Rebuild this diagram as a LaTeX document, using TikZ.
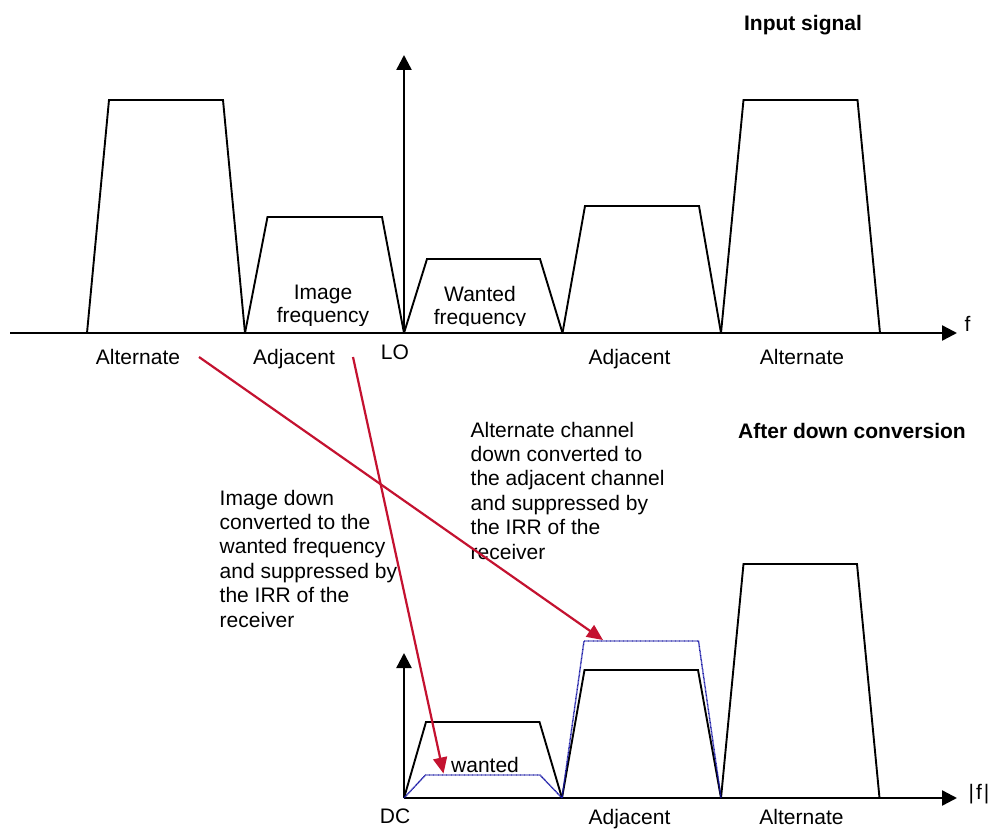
\documentclass[tikz,border=0pt]{standalone}
\usepackage{fontspec}
\setmainfont{Liberation Sans}
\usetikzlibrary{arrows.meta}
\definecolor{redarrow}{RGB}{196,18,48}
\definecolor{bluedot}{RGB}{20,20,165}
\begin{document}
\begin{tikzpicture}[x=1pt,y=-1pt,
  lbl/.style={inner sep=0pt, font=\fontsize{21}{24.4}\selectfont},
  boldlbl/.style={inner sep=0pt, font=\fontsize{21}{24.4}\selectfont\bfseries},
  axis/.style={line width=2.4pt, -{Triangle[length=15pt,width=15pt]}},
  band/.style={line width=1.9pt, line join=miter},
  suppressed/.style={bluedot, line width=1.4pt, dash pattern=on 0.8pt off 0.5pt},
  conv/.style={redarrow, line width=2.2pt, -{Triangle[length=16pt,width=14pt]}}]
\useasboundingbox (0,0) rectangle (993,829);
\fill[white] (0,0) rectangle (993,829);

% ---------- top: input signal ----------
\coordinate (h0) at (10,333);
\coordinate (h1) at (957,333);
\coordinate (lo) at (404,333);
\coordinate (v1) at (404,55);
\draw[axis] (h0) -- (h1);
\draw[axis] (lo) -- (v1);

\draw[band] (87,333) -- (109,100) -- (223,100) -- (245,333);
\draw[band] (245,333) -- (267.5,217) -- (382,217) -- (404,333);
\draw[band] (404,333) -- (427,259) -- (540,259) -- (562.5,333);
\draw[band] (562.5,333) -- (585,206) -- (699,206) -- (721,333);
\draw[band] (721,333) -- (743.5,100) -- (857.5,100) -- (880,333);

\begin{scope}
\clip (250,270) rectangle (560,325.5);
\node[lbl, align=center, anchor=north, font=\fontsize{21}{23}\selectfont] (imgf) at (323,284.7) {Image\\frequency};
\node[lbl, align=center, anchor=north, font=\fontsize{21}{23}\selectfont] (wantf) at (480,285.7) {Wanted\\frequency};
\end{scope}

\node[boldlbl, anchor=base] (insig) at (803,31) {Input signal};
\node[lbl, anchor=base] (fl) at (967.5,331) {f};
\node[lbl, anchor=base] (altL) at (138,364.5) {Alternate};
\node[lbl, anchor=base] (adjL) at (294,364.5) {Adjacent};
\node[lbl, anchor=base] (lol) at (395,359) {LO};
\node[lbl, anchor=base] (adjR) at (629.5,364.5) {Adjacent};
\node[lbl, anchor=base] (altR) at (802,364.5) {Alternate};

% ---------- text blocks ----------
\node[boldlbl, anchor=base] (after) at (852,438) {After down conversion};
\node[lbl, align=left, anchor=north west] (imgtxt) at (219.5,489.7)
  {Image down\\converted to the\\wanted frequency\\and suppressed by\\the IRR of the\\receiver};
\node[lbl, align=left, anchor=north west] (alttxt) at (470.5,421.7)
  {Alternate channel\\down converted to\\the adjacent channel\\and suppressed by\\the IRR of the\\receiver};

% ---------- bottom: after down conversion ----------
\coordinate (dc) at (404,798);
\coordinate (b1) at (957,798);
\coordinate (bv) at (404,653);
\draw[axis] (dc) -- (b1);
\draw[axis] (dc) -- (bv);

\draw[band] (404,798) -- (426,722) -- (539.5,722) -- (562,798);
\draw[band] (562,798) -- (584.5,670) -- (698,670) -- (721,798);
\draw[band] (721,798) -- (743.5,564) -- (857,564) -- (879.5,798);

\draw[suppressed] (404,798) -- (425.5,775) -- (540,775) -- (562,798);
\draw[suppressed] (562,798) -- (584,641) -- (698.5,641) -- (721,798);

\node[lbl, anchor=base west] (wl) at (451,772) {wanted};
\node[lbl, anchor=base] (dcl) at (395,823) {DC};
\node[lbl, anchor=base] (absf) at (979,799) {|\kern2pt f\kern2pt|};
\node[lbl, anchor=base] (adjB) at (629.5,824) {Adjacent};
\node[lbl, anchor=base] (altB) at (801.5,824) {Alternate};

% ---------- conversion arrows ----------
\coordinate (s1) at (199,357);
\coordinate (e1) at (603,640);
\coordinate (s2) at (353,357);
\coordinate (e2) at (443.5,773.5);
\draw[conv] (s1) -- (e1);
\draw[conv] (s2) -- (e2);
\end{tikzpicture}
\end{document}
